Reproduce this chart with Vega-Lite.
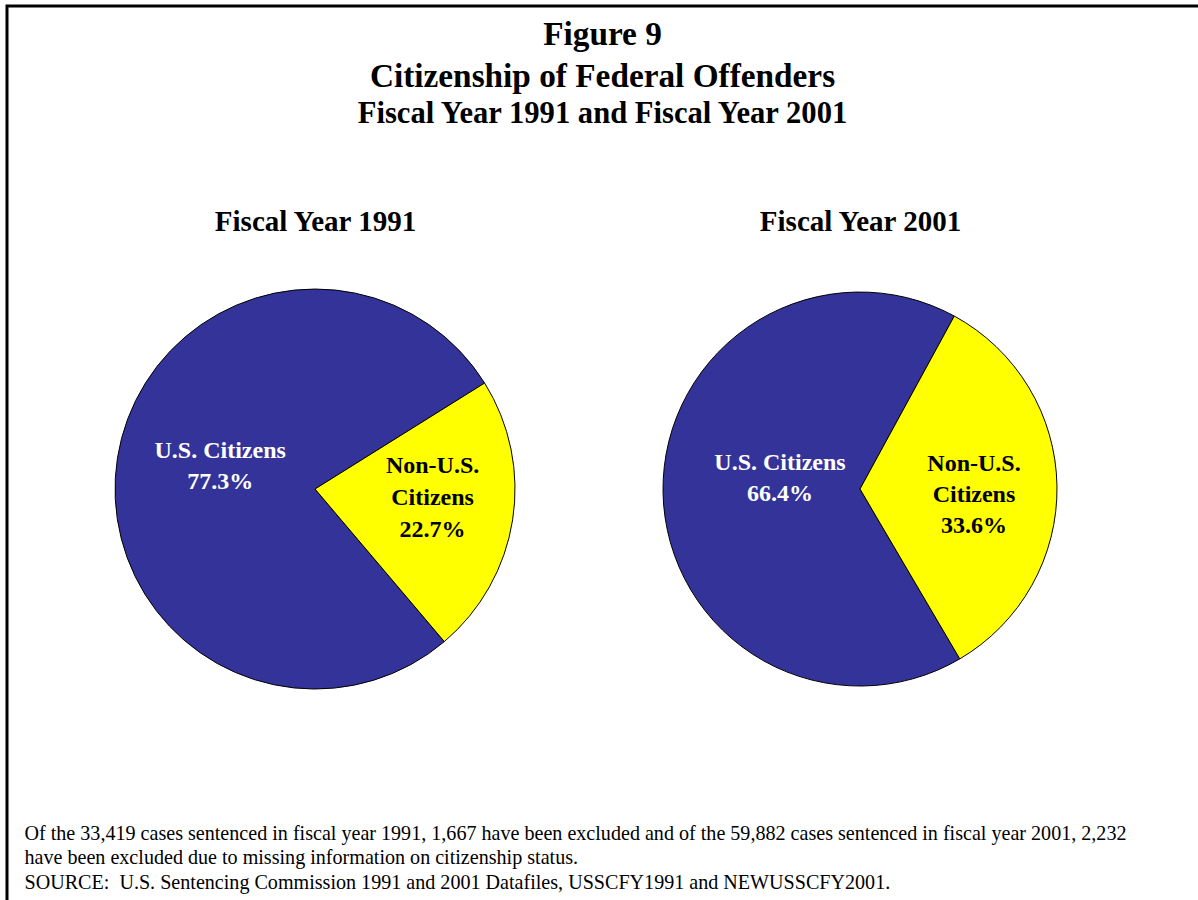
{
  "$schema": "https://vega.github.io/schema/vega-lite/v6.json",
  "autosize": {"type": "none"},
  "padding": {"left": 7, "top": 6, "right": 0, "bottom": 0},
  "width": 1191,
  "height": 894,
  "background": "white",
  "title": {
    "text": ["Figure 9", "Citizenship of Federal Offenders"],
    "subtitle": "Fiscal Year 1991 and Fiscal Year 2001",
    "anchor": "middle",
    "frame": "group",
    "orient": "top",
    "offset": -125,
    "font": "Liberation Serif",
    "fontSize": 33.3,
    "fontWeight": "bold",
    "color": "black",
    "lineHeight": 42,
    "subtitleFont": "Liberation Serif",
    "subtitleFontSize": 30.6,
    "subtitleFontWeight": "bold",
    "subtitleColor": "black",
    "subtitlePadding": 5
  },
  "data": {
    "values": [
      {"year": "1991", "group": "U.S. Citizens", "pct": 77.3, "label": "U.S. Citizens\n77.3%"},
      {"year": "1991", "group": "Non-U.S. Citizens", "pct": 22.7, "label": "Non-U.S.\nCitizens\n22.7%"},
      {"year": "2001", "group": "U.S. Citizens", "pct": 66.4, "label": "U.S. Citizens\n66.4%"},
      {"year": "2001", "group": "Non-U.S. Citizens", "pct": 33.6, "label": "Non-U.S.\nCitizens\n33.6%"}
    ]
  },
  "encoding": {
    "x": {
      "field": "year",
      "type": "nominal",
      "scale": {"type": "point", "padding": 0.5927, "align": 0.4768},
      "axis": {
        "orient": "top",
        "offset": -224,
        "title": null,
        "labelExpr": "'Fiscal Year ' + datum.label",
        "labelFont": "Liberation Serif",
        "labelFontSize": 29,
        "labelFontWeight": "bold",
        "labelColor": "black",
        "labelPadding": 0,
        "labelBaseline": "alphabetic",
        "labelAngle": 0,
        "labelLimit": 0,
        "labelOverlap": false,
        "ticks": false,
        "tickSize": 0,
        "domain": false,
        "grid": false
      }
    },
    "y": {
      "datum": "pie",
      "type": "nominal",
      "scale": {"type": "point", "align": 0.5403},
      "axis": {
        "title": [
          "Of the 33,419 cases sentenced in fiscal year 1991, 1,667 have been excluded and of the 59,882 cases sentenced in fiscal year 2001, 2,232",
          "have been excluded due to missing information on citizenship status.",
          "SOURCE:\u00a0 U.S. Sentencing Commission 1991 and 2001 Datafiles, USSCFY1991 and NEWUSSCFY2001."
        ],
        "labels": false,
        "ticks": false,
        "domain": false,
        "grid": false,
        "titleAngle": 0,
        "titleAlign": "left",
        "titleBaseline": "alphabetic",
        "titleX": 17,
        "titleY": 833,
        "titleFont": "Liberation Serif",
        "titleFontSize": 20.1,
        "titleFontWeight": "normal",
        "titleColor": "black",
        "titleLineHeight": 24.5,
        "titleLimit": 0
      }
    }
  },
  "layer": [
    {
      "transform": [{"filter": {"field": "year", "equal": "1991"}}],
      "mark": {"type": "arc", "outerRadius": 200, "stroke": "black", "strokeWidth": 1},
      "encoding": {
        "theta": {"field": "pct", "type": "quantitative", "stack": true, "scale": {"domain": [0, 100], "range": [1.0123, 7.2955]}},
        "order": {"field": "group", "sort": "ascending"},
        "color": {"field": "group", "type": "nominal", "scale": {"domain": ["U.S. Citizens", "Non-U.S. Citizens"], "range": ["#333399", "#FFFF00"]}, "legend": null}
      }
    },
    {
      "transform": [{"filter": {"field": "year", "equal": "2001"}}],
      "mark": {"type": "arc", "outerRadius": 197, "stroke": "black", "strokeWidth": 1},
      "encoding": {
        "theta": {"field": "pct", "type": "quantitative", "stack": true, "scale": {"domain": [0, 100], "range": [0.4992, 6.7824]}},
        "order": {"field": "group", "sort": "ascending"},
        "color": {"field": "group", "type": "nominal", "scale": {"domain": ["U.S. Citizens", "Non-U.S. Citizens"], "range": ["#333399", "#FFFF00"]}, "legend": null}
      }
    },
    {
      "transform": [{"filter": {"field": "year", "equal": "1991"}}],
      "mark": {"type": "text", "radius": 96, "dy": -23, "font": "Liberation Serif", "fontSize": 24, "fontWeight": "bold", "fill": "white", "lineBreak": "\n", "lineHeight": 31, "baseline": "middle", "align": "center"},
      "encoding": {
        "theta": {"field": "pct", "type": "quantitative", "stack": true, "scale": {"domain": [0, 100], "range": [1.0123, 7.2955]}},
        "order": {"field": "group", "sort": "ascending"},
        "detail": {"field": "group"},
        "text": {"condition": {"test": "datum.group === 'U.S. Citizens'", "field": "label", "type": "nominal"}, "value": ""}
      }
    },
    {
      "transform": [{"filter": {"field": "year", "equal": "1991"}}],
      "mark": {"type": "text", "radius": 119, "dy": -41, "font": "Liberation Serif", "fontSize": 24, "fontWeight": "bold", "fill": "black", "lineBreak": "\n", "lineHeight": 32, "baseline": "middle", "align": "center"},
      "encoding": {
        "theta": {"field": "pct", "type": "quantitative", "stack": true, "scale": {"domain": [0, 100], "range": [1.0123, 7.2955]}},
        "order": {"field": "group", "sort": "ascending"},
        "detail": {"field": "group"},
        "text": {"condition": {"test": "datum.group === 'Non-U.S. Citizens'", "field": "label", "type": "nominal"}, "value": ""}
      }
    },
    {
      "transform": [{"filter": {"field": "year", "equal": "2001"}}],
      "mark": {"type": "text", "radius": 80, "dy": -27, "font": "Liberation Serif", "fontSize": 24, "fontWeight": "bold", "fill": "white", "lineBreak": "\n", "lineHeight": 31, "baseline": "middle", "align": "center"},
      "encoding": {
        "theta": {"field": "pct", "type": "quantitative", "stack": true, "scale": {"domain": [0, 100], "range": [0.4992, 6.7824]}},
        "order": {"field": "group", "sort": "ascending"},
        "detail": {"field": "group"},
        "text": {"condition": {"test": "datum.group === 'U.S. Citizens'", "field": "label", "type": "nominal"}, "value": ""}
      }
    },
    {
      "transform": [{"filter": {"field": "year", "equal": "2001"}}],
      "mark": {"type": "text", "radius": 114, "dy": -23, "font": "Liberation Serif", "fontSize": 24, "fontWeight": "bold", "fill": "black", "lineBreak": "\n", "lineHeight": 31, "baseline": "middle", "align": "center"},
      "encoding": {
        "theta": {"field": "pct", "type": "quantitative", "stack": true, "scale": {"domain": [0, 100], "range": [0.4992, 6.7824]}},
        "order": {"field": "group", "sort": "ascending"},
        "detail": {"field": "group"},
        "text": {"condition": {"test": "datum.group === 'Non-U.S. Citizens'", "field": "label", "type": "nominal"}, "value": ""}
      }
    }
  ],
  "resolve": {"scale": {"theta": "independent"}},
  "config": {
    "font": "Liberation Serif",
    "view": {"stroke": "black", "strokeWidth": 3, "strokeDash": [1191, 2085, 894]}
  }
}
